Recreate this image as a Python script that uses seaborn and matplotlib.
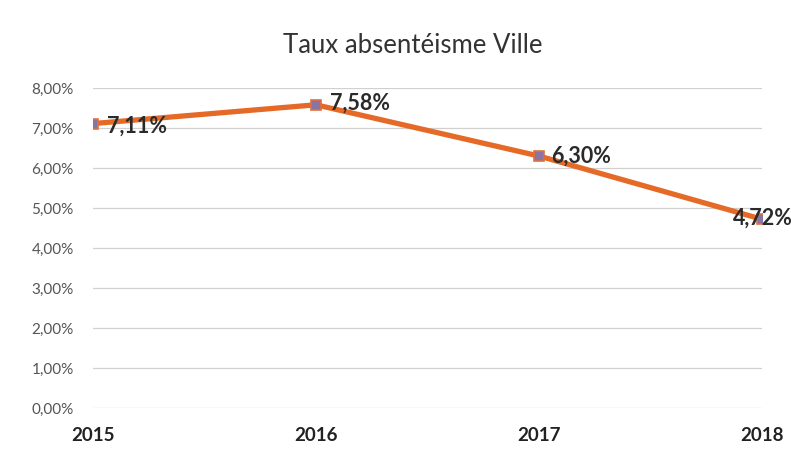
import numpy as np
import pandas as pd
import matplotlib
matplotlib.use("Agg")
import matplotlib.pyplot as plt
import seaborn as sns
from matplotlib.ticker import FuncFormatter

years = [2015, 2016, 2017, 2018]
taux = [7.11, 7.58, 6.30, 4.72]
labels = ["7,11%", "7,58%", "6,30%", "4,72%"]
# decalage des etiquettes (points)
label_dx = [10, 10, 9, -21]
label_dy = [-2, 1, 0, 1]

sns.set_theme(style="white")
plt.rcParams['font.family'] = ['Lato', 'DejaVu Sans']

df = pd.DataFrame({"annee": years, "taux": taux})

fig = plt.figure(figsize=(7.91, 4.58), dpi=100)
ax = fig.add_axes([0.1176, 0.1092, 0.8454, 0.6987])

sns.lineplot(data=df, x="annee", y="taux", ax=ax, color="#E56A28", linewidth=3.8,
             marker="s", markersize=6.5, markerfacecolor="#8B74A0",
             markeredgecolor="#E07040", markeredgewidth=1.2, zorder=3)

for x, y, t, dx, dy in zip(years, taux, labels, label_dx, label_dy):
    ax.annotate(t, (x, y), xytext=(dx, dy), textcoords="offset points",
                ha="left", va="center", fontsize=15.5, fontweight="bold",
                color="#2a2a2a", zorder=4, annotation_clip=False)

ax.set_xlim(2015, 2018)
ax.set_ylim(0, 8)
ax.set_yticks(np.arange(0, 9, 1))
ax.yaxis.set_major_formatter(FuncFormatter(lambda v, p: f"{v:.2f}%".replace(".", ",")))
ax.set_xticks(years)
ax.set_xticklabels([str(y) for y in years], fontweight="bold", fontsize=13.5, color="#222222")
ax.tick_params(axis="y", labelsize=11, labelcolor="#555555", pad=14, length=0)
ax.tick_params(axis="x", pad=14, length=0)
ax.grid(axis="y", color="#d0d0d0", linewidth=0.9)
ax.set_axisbelow(True)
for s in ax.spines.values():
    s.set_visible(False)
ax.set_xlabel("")
ax.set_ylabel("")

fig.text(0.522, 0.9, "Taux absentéisme Ville", ha="center", va="center",
         fontsize=18.5, color="#333333")

fig.savefig("out.png", dpi=100)
